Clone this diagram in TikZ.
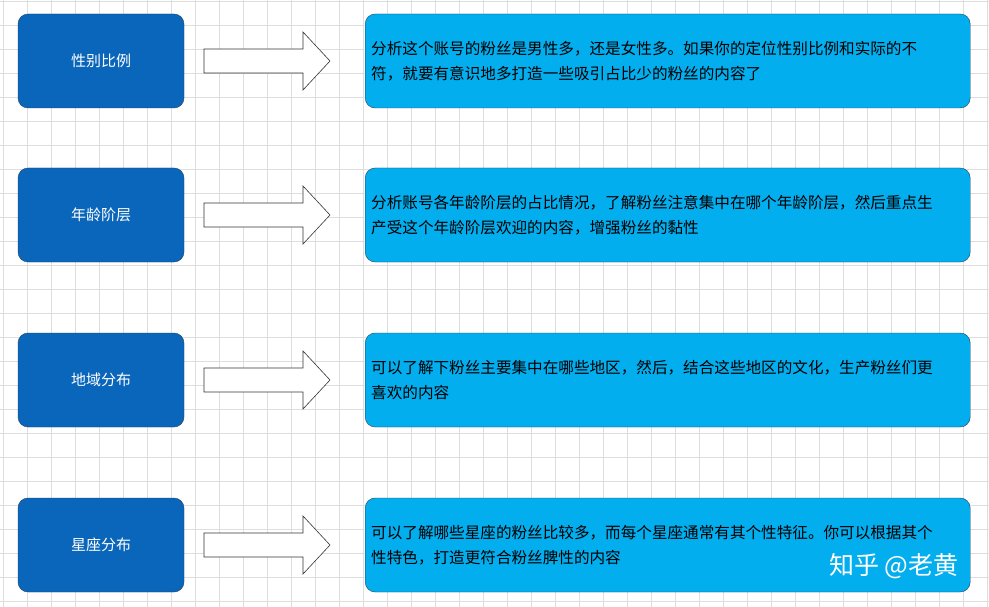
\documentclass[tikz,border=0pt]{standalone}
\usepackage{fontspec}
\setmainfont{Noto Sans CJK SC}
\XeTeXlinebreaklocale "zh"
\XeTeXlinebreakskip=0pt plus 1pt
\usetikzlibrary{positioning}
\definecolor{leftblue}{HTML}{0A66BA}
\definecolor{rightblue}{HTML}{03AEEE}
\definecolor{edge}{HTML}{1E3F5F}
\tikzset{
  catbox/.style={draw=edge, fill=leftblue, rounded corners=10pt, minimum width=166pt,
    minimum height=94pt, text=white, font=\fontsize{15}{17}\selectfont},
  descbox/.style={draw=edge, fill=rightblue, rounded corners=10pt, minimum width=605pt,
    minimum height=94pt, text width=593pt, align=left, inner xsep=6pt,
    font=\fontsize{15.6}{25}\selectfont},
  fatarrow/.style={draw=black!80, fill=white, line width=0.6pt}
}
\begin{document}
\begin{tikzpicture}[x=1pt,y=-1pt]
  \useasboundingbox (0,0) rectangle (989,607);
  \fill[white] (0,0) rectangle (989,607);
  % grid
  \foreach \gx in {3,27,...,987} \draw[black!13, line width=0.6pt] (\gx,0) -- (\gx,607);
  \foreach \gy in {1,25,...,605} \draw[black!13, line width=0.6pt] (0,\gy) -- (989,\gy);
  % rows
  \foreach \n/\cy/\cat/\desc in {
    a/61/性别比例/{分析这个账号的粉丝是男性多，还是女性多。如果你的定位性别比例和实际的不\\符，就要有意识地多打造一些吸引占比少的粉丝的内容了},
    b/215/年龄阶层/{分析账号各年龄阶层的占比情况，了解粉丝注意集中在哪个年龄阶层，然后重点生\\产受这个年龄阶层欢迎的内容，增强粉丝的黏性},
    c/380/地域分布/{可以了解下粉丝主要集中在哪些地区，然后，结合这些地区的文化，生产粉丝们更\\喜欢的内容},
    d/545/星座分布/{可以了解哪些星座的粉丝比较多，而每个星座通常有其个性特征。你可以根据其个\\性特色，打造更符合粉丝脾性的内容}}
  {
    \node[catbox] (cat\n) at (101,\cy) {\cat};
    \node[descbox, anchor=west] (desc\n) at (365,\cy) {\desc};
    \draw[fatarrow] (204,\cy-12) -- (303,\cy-12) -- (303,\cy-29) -- (330,\cy)
      -- (303,\cy+29) -- (303,\cy+12) -- (204,\cy+12) -- cycle;
  }
  % watermark
  \node[text=white, font=\fontsize{25}{25}\selectfont, anchor=east] (mark) at (962,566)
    {知乎 @老黄};
\end{tikzpicture}
\end{document}
